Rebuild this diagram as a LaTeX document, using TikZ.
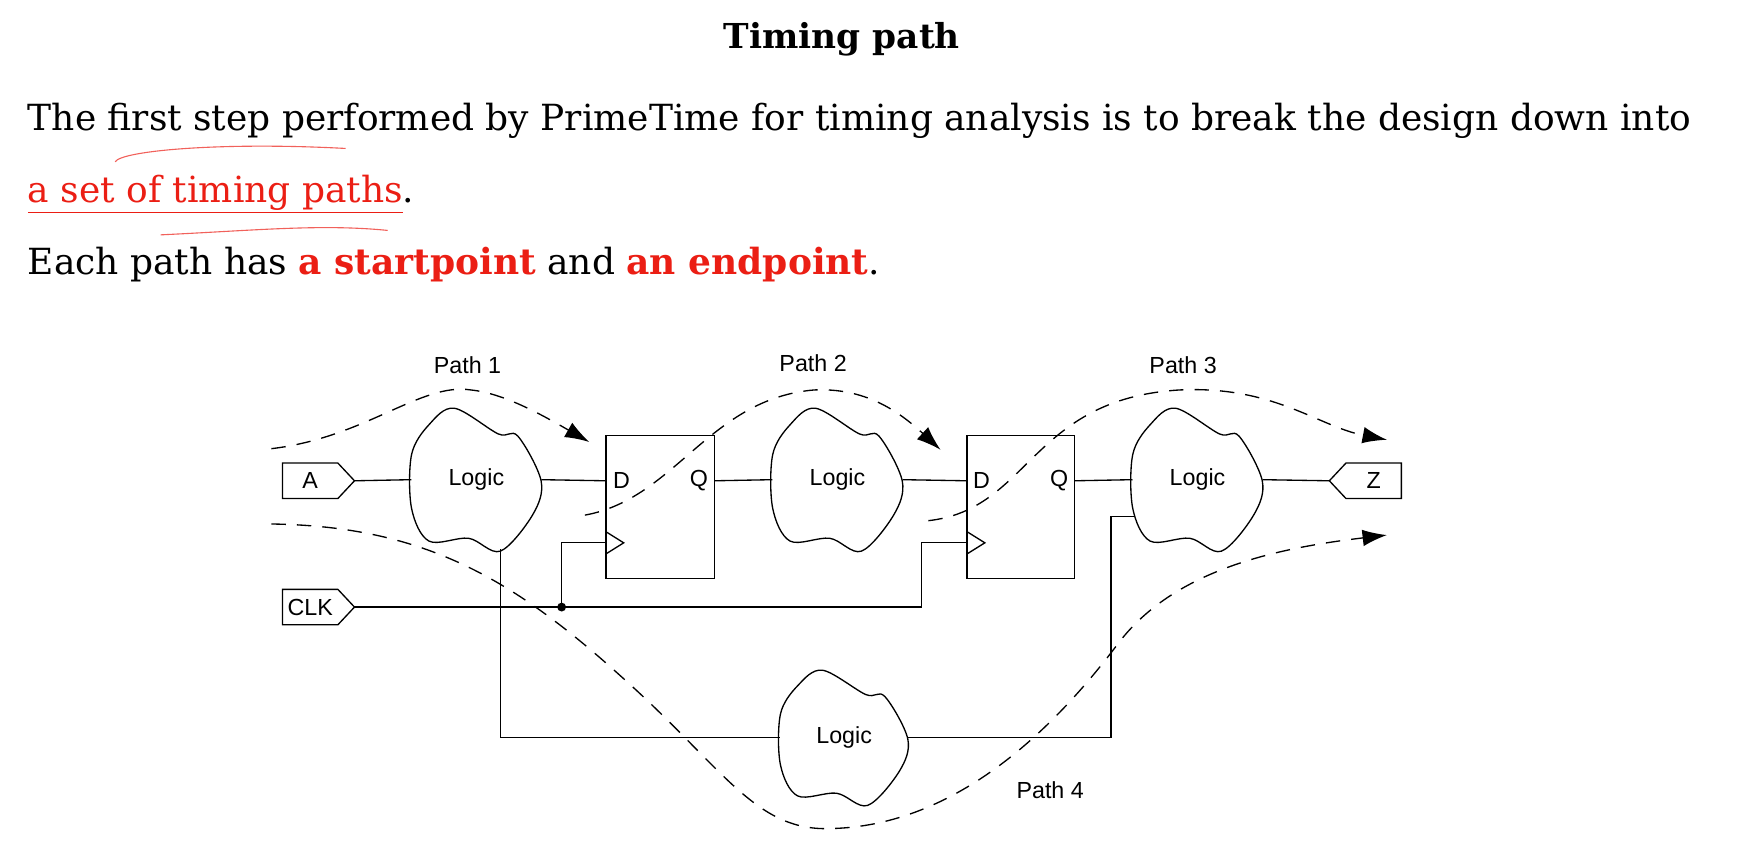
\documentclass[tikz,border=0pt]{standalone}
\usepackage{fontspec}
\setmainfont{DejaVu Serif}
\newfontfamily\diagfont{Liberation Sans}
\usetikzlibrary{arrows.meta}
\definecolor{hired}{RGB}{235,30,20}
\begin{document}
\begin{tikzpicture}[x=1pt,y=-1pt,
  wire/.style={line width=1.2pt},
  dpath/.style={line width=1.2pt,dash pattern=on 13pt off 10pt},
  arr/.style={-{Latex[length=22pt,width=15pt]}},
  lbl/.style={font=\diagfont\fontsize{21}{24}\selectfont,inner sep=0pt},
  body/.style={anchor=base west,inner sep=0pt,font=\fontsize{32.5}{38}\selectfont},
  port/.style={lbl,minimum width=50pt,minimum height=32pt}]
\useasboundingbox (0,0) rectangle (1568,764);
% texts
\node[anchor=center,font=\bfseries\fontsize{31}{34}\selectfont] (title) at (760,35) {Timing path};
\node[body] (l1) at (25,118) {The first step performed by PrimeTime for timing analysis is to break the design down into};
\node[body,text=hired] (l2) at (25,183) {\underline{a set of timing paths}\textcolor{black}{.}};
\node[body] (l3) at (25,248) {Each path has \textcolor{hired}{\bfseries a startpoint} and \textcolor{hired}{\bfseries an endpoint}.};
\draw[hired!70,line width=1pt] (104,146) .. controls (110,136) and (200,128) .. (312,134);
\draw[hired!70,line width=1pt] (145,212) .. controls (230,208) and (290,202) .. (350,208);
% ports
\node[port] (A) at (280,434) {A};
\draw[wire] (255,418) -- (305,418) -- (320,434) -- (305,450) -- (255,450) -- cycle;
\coordinate (Ao) at (320,434);
\node[port] (CLK) at (280,548) {CLK};
\draw[wire] (255,532) -- (305,532) -- (320,548) -- (305,564) -- (255,564) -- cycle;
\coordinate (CLKo) at (320,548);
\node[port] (Z) at (1240,434) {Z};
\draw[wire] (1265,418) -- (1215,418) -- (1200,434) -- (1215,450) -- (1265,450) -- cycle;
\coordinate (Zi) at (1200,434);
% clouds
\newcommand{\mycloud}[4]{%
 \node[lbl,minimum width=#3pt,minimum height=#4pt] (#1) at (#2) {Logic};
 \draw[wire,shift={(#2)},xscale=#3/2,yscale=#4/2] plot[smooth cycle,tension=0.55] coordinates{
 (-0.34,-1.0) (0.34,-0.64) (0.64,-0.61) (1,0.02) (0.87,0.49) (0.37,1.0) (-0.12,0.82) (-0.73,0.86) (-1,0.4) (-1,-0.35) (-0.73,-0.77)};}
\mycloud{L1}{430,433}{117}{129}
\mycloud{L2}{756,433}{117}{129}
\mycloud{L3}{1081,433}{117}{129}
\mycloud{L4}{762,666}{115}{122}
% flip-flops
\node[draw,wire,minimum width=98pt,minimum height=129pt,inner sep=0pt] (F1) at (596,457.5) {};
\node[draw,wire,minimum width=97pt,minimum height=129pt,inner sep=0pt] (F2) at (921.5,457.5) {};
\node[lbl] (D1) at (561,434) {D};
\node[lbl] (Q1) at (631,434) {Q};
\node[lbl] (D2) at (886,434) {D};
\node[lbl] (Q2) at (956,434) {Q};
\draw[wire] (547,480) -- (563,490) -- (547,500);
\draw[wire] (873,480) -- (889,490) -- (873,500);
\coordinate (C1) at (547,490);
\coordinate (C2) at (873,490);
\coordinate (Din1) at (547,434);
\coordinate (Din2) at (873,434);
\coordinate (Qo1) at (645,434);
\coordinate (Qo2) at (970,434);
% wires
\draw[wire] (Ao) -- (L1.west);
\draw[wire] (L1.east) -- (Din1);
\draw[wire] (Qo1) -- (L2.west);
\draw[wire] (L2.east) -- (Din2);
\draw[wire] (Qo2) -- (L3.west);
\draw[wire] (L3.east) -- (Zi);
\coordinate (J) at (507,548);
\draw[wire] (CLKo) -- (832,548) |- (C2);
\draw[wire] (J) |- (C1);
\fill (J) circle (4pt);
\coordinate (L1b) at (452,496);
\coordinate (L3l) at (1025,466);
\draw[wire] (L1b) |- (L4.west);
\draw[wire] (L4.east) -| (1003,466) -- (L3l);
% dashed paths
\coordinate (p1s) at (245,405); \coordinate (p1e) at (532,399);
\draw[dpath,arr] (p1s) .. controls (330,395) and (380,345) .. (425,352) .. controls (455,355) and (490,375) .. (p1e);
\node[lbl] (P1) at (422,330) {Path 1};
\coordinate (p2s) at (528,465); \coordinate (p2e) at (849,406);
\draw[dpath,arr] (p2s) .. controls (610,450) and (640,360) .. (735,352) .. controls (780,350) and (810,370) .. (p2e);
\node[lbl] (P2) at (734,328) {Path 2};
\coordinate (p3s) at (838,470); \coordinate (p3e) at (1252,397);
\draw[dpath,arr] (p3s) .. controls (930,460) and (930,360) .. (1065,352) .. controls (1150,348) and (1190,385) .. (p3e);
\node[lbl] (P3) at (1068,330) {Path 3};
\coordinate (p4s) at (245,473); \coordinate (p4e) at (1252,483);
\draw[dpath,arr] (p4s) .. controls (380,475) and (460,520) .. (560,610) .. controls (650,690) and (680,748) .. (745,748) .. controls (860,748) and (950,660) .. (1010,580) .. controls (1060,515) and (1150,495) .. (p4e);
\node[lbl] (P4) at (948,713) {Path 4};
\end{tikzpicture}
\end{document}
